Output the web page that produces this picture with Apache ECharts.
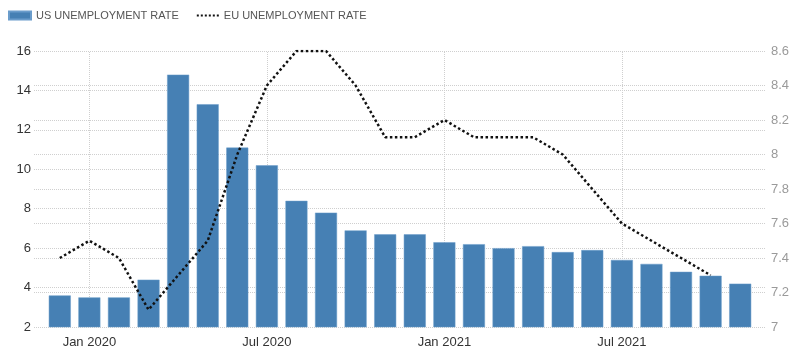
<!DOCTYPE html>
<html>
<head>
<meta charset="utf-8">
<script src="https://cdn.jsdelivr.net/npm/echarts@6/dist/echarts.min.js"></script>
<style>
  html, body { margin: 0; padding: 0; background: #fff; }
  #chart { width: 800px; height: 354px; }
</style>
</head>
<body>
<div id="chart"></div>
<script>
// months Dec 2019 .. Nov 2021
const months = [
  "Dec 2019", "Jan 2020", "Feb 2020", "Mar 2020", "Apr 2020", "May 2020",
  "Jun 2020", "Jul 2020", "Aug 2020", "Sep 2020", "Oct 2020", "Nov 2020",
  "Dec 2020", "Jan 2021", "Feb 2021", "Mar 2021", "Apr 2021", "May 2021",
  "Jun 2021", "Jul 2021", "Aug 2021", "Sep 2021", "Oct 2021", "Nov 2021"
];
const usRate = [3.6, 3.5, 3.5, 4.4, 14.8, 13.3, 11.1, 10.2, 8.4, 7.8, 6.9, 6.7,
  6.7, 6.3, 6.2, 6.0, 6.1, 5.8, 5.9, 5.4, 5.2, 4.8, 4.6, 4.2];
const euRate = [7.4, 7.5, 7.4, 7.1, 7.3, 7.5, 8.0, 8.4, 8.6, 8.6, 8.4, 8.1,
  8.1, 8.2, 8.1, 8.1, 8.1, 8.0, 7.8, 7.6, 7.5, 7.4, 7.3, null];
const labelMonths = ["Jan 2020", "Jul 2020", "Jan 2021", "Jul 2021"];

const chart = echarts.init(document.getElementById("chart"));
const gridLine = { show: true, lineStyle: { type: "dotted", color: "#cfcfcf", width: 1 } };

let option = {
  animation: false,
  textStyle: { fontFamily: "Liberation Sans, Arial, sans-serif" },
  legend: {
    left: 8,
    top: 10,
    padding: 0,
    itemWidth: 22,
    itemHeight: 8,
    itemGap: 17,
    textStyle: { fontSize: 11, color: "#555" },
    data: [
      { name: "US UNEMPLOYMENT RATE", icon: "rect" },
      { name: "EU UNEMPLOYMENT RATE", itemStyle: { opacity: 0 } }
    ]
  },
  grid: [
    // wide grid: only carries the horizontal grid lines and y labels
    { left: 34, right: 35, top: 51, bottom: 27 },
    // plot grid for the marks
    { left: 45, right: 45, top: 51, bottom: 27 }
  ],
  xAxis: [
    { gridIndex: 0, type: "value", min: 0, max: 1, show: false },
    {
      gridIndex: 1,
      type: "category",
      data: months,
      axisLine: { show: false },
      axisTick: { show: false },
      axisLabel: {
        interval: (i, v) => labelMonths.includes(v),
        color: "#333",
        fontSize: 13,
        margin: 9
      },
      splitLine: { show: false }
    }
  ],
  yAxis: [
    {
      gridIndex: 0, type: "value", position: "left",
      min: 2, max: 16, interval: 2,
      axisLine: { show: false }, axisTick: { show: false },
      axisLabel: { color: "#333", fontSize: 13, margin: 3 },
      splitLine: gridLine
    },
    {
      gridIndex: 0, type: "value", position: "right",
      min: 7, max: 8.6, interval: 0.2,
      axisLine: { show: false }, axisTick: { show: false },
      axisLabel: { color: "#9a9a9a", fontSize: 13, margin: 6 },
      splitLine: gridLine
    },
    { gridIndex: 1, type: "value", min: 2, max: 16, show: false },
    { gridIndex: 1, type: "value", min: 7, max: 8.6, show: false }
  ],
  series: [
    {
      // vertical grid lines at the labelled months, kept behind the bars
      name: "vgrid",
      type: "line",
      xAxisIndex: 1,
      yAxisIndex: 2,
      data: [],
      z: 1,
      markLine: {
        silent: true,
        z: 1,
        symbol: "none",
        label: { show: false },
        lineStyle: { type: "dotted", color: "#cfcfcf", width: 1 },
        data: labelMonths.map(m => ({ xAxis: m }))
      }
    },
    {
      name: "US UNEMPLOYMENT RATE",
      type: "bar",
      xAxisIndex: 1,
      yAxisIndex: 2,
      data: usRate,
      barWidth: 22,
      itemStyle: { color: "#4680b4", borderColor: "#6a9ccb", borderWidth: 0.5 },
      z: 2
    },
    {
      name: "EU UNEMPLOYMENT RATE",
      type: "line",
      xAxisIndex: 1,
      yAxisIndex: 3,
      data: euRate,
      showSymbol: false,
      symbol: "none",
      lineStyle: { type: "dotted", color: "#111", width: 2.5 },
      itemStyle: { color: "#111" },
      z: 3
    }
  ]
};
chart.setOption(option);
</script>
</body>
</html>
